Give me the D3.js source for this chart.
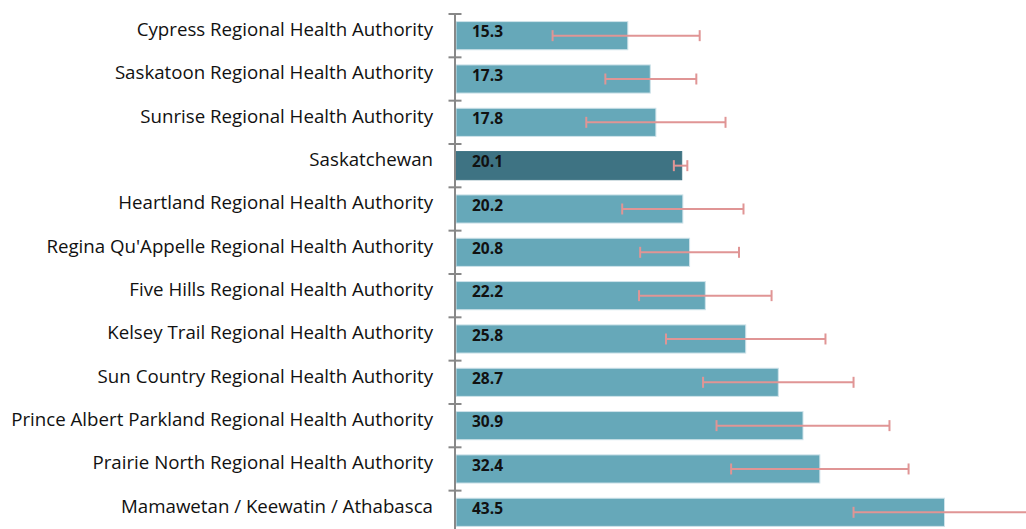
<!DOCTYPE html>
<html><head><meta charset="utf-8">
<script src="https://cdn.jsdelivr.net/npm/d3@7"></script>
<style>body{margin:0;background:#fff}svg{display:block}</style>
</head><body>
<script>
const categories = ["Cypress Regional Health Authority","Saskatoon Regional Health Authority","Sunrise Regional Health Authority","Saskatchewan","Heartland Regional Health Authority","Regina Qu'Appelle Regional Health Authority","Five Hills Regional Health Authority","Kelsey Trail Regional Health Authority","Sun Country Regional Health Authority","Prince Albert Parkland Regional Health Authority","Prairie North Regional Health Authority","Mamawetan / Keewatin / Athabasca"];
const values = [15.3,17.3,17.8,20.1,20.2,20.8,22.2,25.8,28.7,30.9,32.4,43.5];
const lower  = [8.6,13.3,11.6,19.4,14.8,16.4,16.3,18.7,22.0,23.2,24.5,35.4];
const upper  = [21.7,21.4,24.0,20.6,25.6,25.2,28.1,32.9,35.4,38.6,40.3,53.0];
const highlight = "Saskatchewan";

const W=1026,H=529;
const svg=d3.select("body").append("svg").attr("width",W).attr("height",H);
const x=d3.scaleLinear().domain([0,50]).range([456,456+50*11.23]);
const y=d3.scaleBand().domain(categories).range([14,14+43.33*12]).paddingInner(0.35).paddingOuter(0.175);
const data=categories.map((c,i)=>({c,v:values[i],lo:lower[i],hi:upper[i]}));

svg.selectAll("rect.bar").data(data).enter().append("rect")
 .attr("x",x(0)).attr("y",d=>y(d.c)).attr("width",d=>x(d.v)-x(0)).attr("height",y.bandwidth())
 .attr("fill",d=>d.c===highlight?"#3e7383":"#66a8b9")
 .attr("stroke",d=>d.c===highlight?"#3e7383":"#cfe3ea").attr("stroke-width",1);

const eg=svg.append("g").attr("stroke","#e09595").attr("stroke-width",2).attr("fill","none");
data.forEach(d=>{
 const cy=y(d.c)+y.bandwidth()/2;
 eg.append("line").attr("x1",x(d.lo)).attr("x2",x(d.hi)).attr("y1",cy).attr("y2",cy);
 eg.append("line").attr("x1",x(d.lo)).attr("x2",x(d.lo)).attr("y1",cy-5.5).attr("y2",cy+5.5);
 eg.append("line").attr("x1",x(d.hi)).attr("x2",x(d.hi)).attr("y1",cy-5.5).attr("y2",cy+5.5);
});

svg.selectAll("text.val").data(data).enter().append("text")
 .attr("x",472).attr("y",d=>y(d.c)+y.bandwidth()/2+1.6)
 .attr("font-family","Open Sans").attr("font-weight","bold").attr("font-size",15.5).attr("fill","#111")
 .text(d=>d.v.toFixed(1));

// category axis
const ax=svg.append("g").attr("transform","translate(455,0)");
const step=y.step();
const ticks=d3.range(categories.length+1).map(i=>14+i*step);
ax.append("line").attr("x1",0).attr("x2",0).attr("y1",14).attr("y2",H+5).attr("stroke","#888").attr("stroke-width",2);
ax.selectAll("line.t").data(ticks).enter().append("line").attr("x1",-6.5).attr("x2",6.5)
 .attr("y1",d=>d).attr("y2",d=>d).attr("stroke","#888").attr("stroke-width",2);
svg.selectAll("text.cat").data(categories).enter().append("text")
 .attr("x",433).attr("y",d=>y(d)+y.bandwidth()/2+0.3).attr("text-anchor","end")
 .attr("font-family","Open Sans").attr("font-size",18.7).attr("fill","#111").text(d=>d);
</script>
</body></html>
